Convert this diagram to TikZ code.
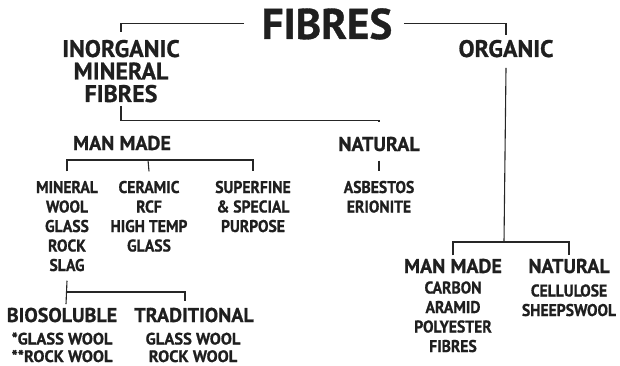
\documentclass[tikz,border=0pt]{standalone}
\usepackage{fontspec}
\setmainfont{PT Sans}
\newfontfamily\chartfont[FakeBold=0.8]{PT Sans}
\newfontfamily\leaffont[FakeStretch=0.92,FakeBold=0.8]{PT Sans}
\usepackage{tikz}
\usetikzlibrary{calc}

\tikzset{
  chart/.style={text=black!88, inner sep=3.3pt},
  toptitle/.style={chart, font=\chartfont\bfseries\fontsize{43}{43}\selectfont},
  branch/.style={chart, align=center, font=\chartfont\bfseries\fontsize{24}{22.5}\selectfont},
  subbranch/.style={chart, align=center, font=\chartfont\bfseries\fontsize{20}{20}\selectfont},
  leaf/.style={chart, align=center, font=\leaffont\bfseries\fontsize{17}{19.5}\selectfont},
  smallleaf/.style={chart, inner sep=0.5pt, align=center, font=\chartfont\bfseries\fontsize{16.5}{17.5}\selectfont},
  link/.style={line width=1.1pt, black!85}
}

\begin{document}
\begin{tikzpicture}[x=1pt, y=-1pt]
\useasboundingbox (0,0) rectangle (620,366);
% headings (base = last line)
\node[toptitle, anchor=base] (fibres) at (327,39) {FIBRES};
\node[branch, anchor=base] (inorg) at (121,102) {INORGANIC\\MINERAL\\FIBRES};
\node[branch, anchor=base] (organic) at (506,57) {ORGANIC};
% inorganic side
\node[subbranch, anchor=base] (manmadeA) at (122,150) {MAN MADE};
\node[subbranch, anchor=base] (naturalA) at (379,151) {NATURAL};
\node[leaf, anchor=base] (mineral) at (67,271) {MINERAL\\WOOL\\GLASS\\ROCK\\SLAG};
\node[leaf, anchor=base] (ceramic) at (149,251.5) {CERAMIC\\RCF\\HIGH TEMP\\GLASS};
\node[leaf, anchor=base] (superfine) at (253,232) {SUPERFINE\\\& SPECIAL\\PURPOSE};
\node[leaf, anchor=base] (asbestos) at (379,212.5) {ASBESTOS\\ERIONITE};
\node[subbranch, anchor=base] (biosol) at (62,322) {BIOSOLUBLE};
\node[subbranch, anchor=base] (traditional) at (194,322) {TRADITIONAL};
\node[smallleaf, anchor=base] (biolist) at (62,362) {*GLASS WOOL\\**ROCK WOOL};
\node[smallleaf, anchor=base] (tradlist) at (193,362) {GLASS WOOL\\ROCK WOOL};
% organic side
\node[subbranch, anchor=base] (manmadeB) at (453,273) {MAN MADE};
\node[subbranch, anchor=base] (naturalB) at (569,273) {NATURAL};
\node[leaf, anchor=base] (carbon) at (453,352) {CARBON\\ARAMID\\POLYESTER\\FIBRES};
\node[leaf, anchor=base] (cellulose) at (569,316) {CELLULOSE\\SHEEPSWOOL};
% junctions
\coordinate (mmbar) at (148,160);
\coordinate (biofork) at (66,292);
\coordinate (orgfork) at (504,242);
% connectors
\draw[link] ([xshift=-14pt]fibres.west) -| ([yshift=4pt]inorg.north);
\draw[link] ([xshift=8pt]fibres.east) -| ([yshift=1pt]organic.north);
\draw[link] (inorg.south) |- ([yshift=13pt]naturalA.north) -- ++(0,2);
\draw[link] ([yshift=-6pt]naturalA.south) -- ([yshift=6pt]asbestos.north);
\draw[link] ([yshift=6pt]mineral.north) |- (mmbar) -| ([yshift=6pt]superfine.north);
\draw[link] ([yshift=6pt]ceramic.north) -- (mmbar);
\draw[link] ([yshift=-6pt]mineral.south) -- (biofork |- biosol.north);
\draw[link] (biofork) -| ([xshift=-9pt,yshift=3pt]traditional.north);
\draw[link] ([yshift=-7pt]organic.south) -- (orgfork);
\draw[link] (manmadeB.north) |- (orgfork) -| (naturalB.north);
\end{tikzpicture}
\end{document}
